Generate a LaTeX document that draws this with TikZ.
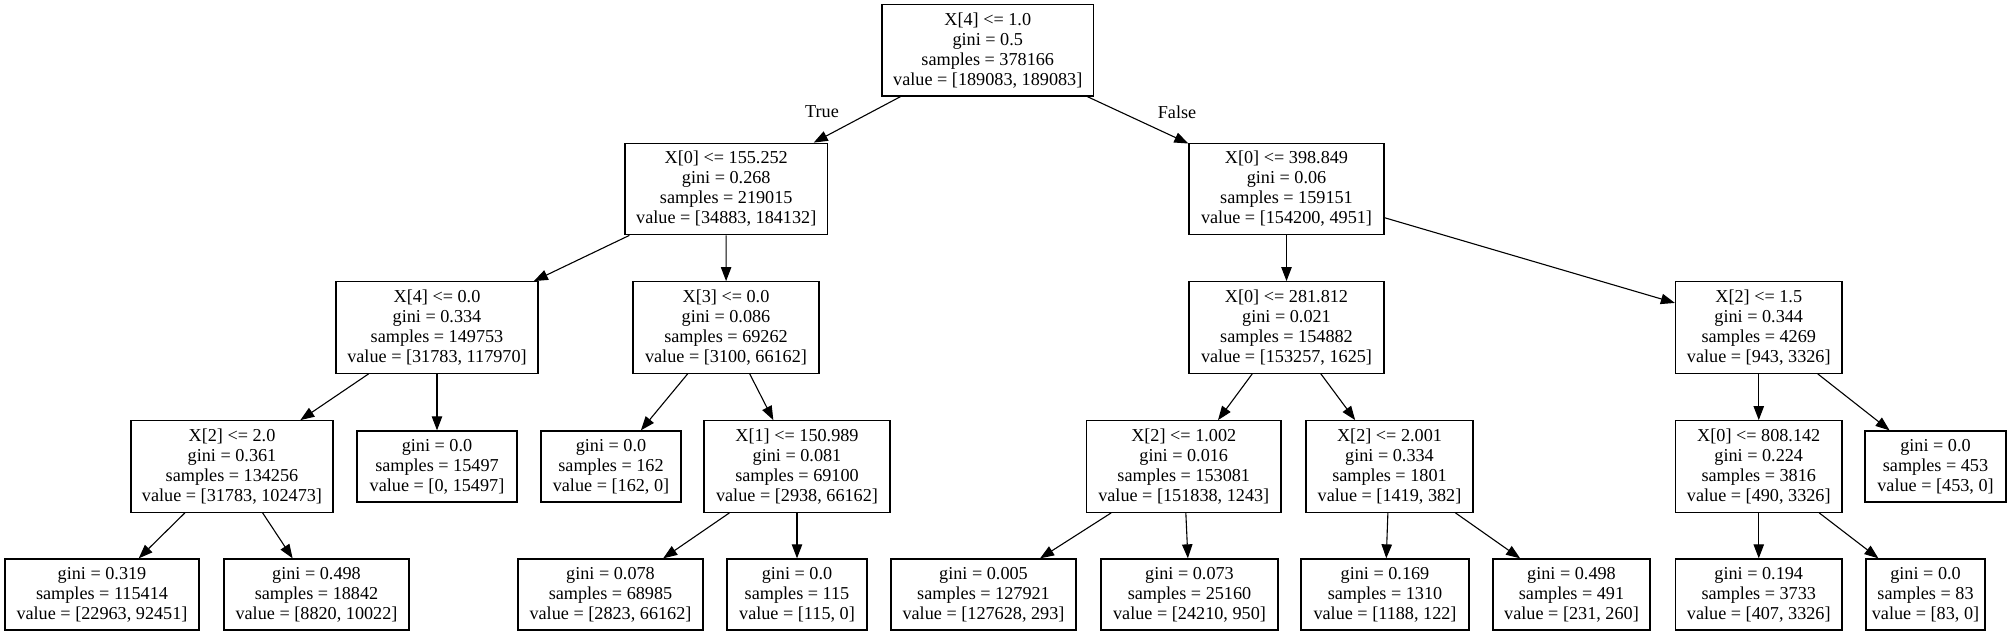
\documentclass[tikz,border=0pt]{standalone}
\usepackage{fontspec}
\setmainfont{Liberation Serif}
\usetikzlibrary{arrows.meta}
\begin{document}
\begin{tikzpicture}[x=0.5pt,y=-0.5pt,
 box/.style={draw=black,line width=0.65pt,inner sep=0pt,align=center,font=\fontsize{9.1}{10}\selectfont,minimum height=45.75pt},
 leaf/.style={box,minimum height=35.5pt},
 edge/.style={draw=black,line width=0.55pt,-{Triangle[length=7pt,width=5.2pt]}},
 lab/.style={font=\fontsize{9.1}{10}\selectfont,inner sep=0pt}]
\useasboundingbox (0,0) rectangle (2011,636);
% row 1
\node[box,minimum width=105.75pt] (n0) at (987.75,50.35) {X[4] <= 1.0\\gini = 0.5\\samples = 378166\\value = [189083, 189083]};
% row 2
\node[box,minimum width=101.25pt] (n1) at (726.25,189) {X[0] <= 155.252\\gini = 0.268\\samples = 219015\\value = [34883, 184132]};
\node[box,minimum width=97.5pt] (n2) at (1286.5,189) {X[0] <= 398.849\\gini = 0.06\\samples = 159151\\value = [154200, 4951]};
% row 3
\node[box,minimum width=101pt] (n3) at (437,327.5) {X[4] <= 0.0\\gini = 0.334\\samples = 149753\\value = [31783, 117970]};
\node[box,minimum width=93pt] (n4) at (726,327.5) {X[3] <= 0.0\\gini = 0.086\\samples = 69262\\value = [3100, 66162]};
\node[box,minimum width=97.5pt] (n5) at (1286.5,327.5) {X[0] <= 281.812\\gini = 0.021\\samples = 154882\\value = [153257, 1625]};
\node[box,minimum width=83.25pt] (n6) at (1758.75,327.5) {X[2] <= 1.5\\gini = 0.344\\samples = 4269\\value = [943, 3326]};
% row 4
\node[box,minimum width=101pt] (n7) at (232,466.5) {X[2] <= 2.0\\gini = 0.361\\samples = 134256\\value = [31783, 102473]};
\node[leaf,minimum width=80pt] (n8) at (437,466.5) {gini = 0.0\\samples = 15497\\value = [0, 15497]};
\node[leaf,minimum width=70pt] (n9) at (611,466.5) {gini = 0.0\\samples = 162\\value = [162, 0]};
\node[box,minimum width=93pt] (n10) at (797,466.5) {X[1] <= 150.989\\gini = 0.081\\samples = 69100\\value = [2938, 66162]};
\node[box,minimum width=97.25pt] (n11) at (1183.75,466.5) {X[2] <= 1.002\\gini = 0.016\\samples = 153081\\value = [151838, 1243]};
\node[box,minimum width=83.5pt] (n12) at (1389.5,466.5) {X[2] <= 2.001\\gini = 0.334\\samples = 1801\\value = [1419, 382]};
\node[box,minimum width=83.25pt] (n13) at (1758.75,466.5) {X[0] <= 808.142\\gini = 0.224\\samples = 3816\\value = [490, 3326]};
\node[leaf,minimum width=70.5pt] (n14) at (1935.5,466.5) {gini = 0.0\\samples = 453\\value = [453, 0]};
% row 5
\node[leaf,minimum width=97pt] (n15) at (102,594.5) {gini = 0.319\\samples = 115414\\value = [22963, 92451]};
\node[leaf,minimum width=92.5pt] (n16) at (316.5,594.5) {gini = 0.498\\samples = 18842\\value = [8820, 10022]};
\node[leaf,minimum width=92.5pt] (n17) at (610.5,594.5) {gini = 0.078\\samples = 68985\\value = [2823, 66162]};
\node[leaf,minimum width=70pt] (n18) at (797,594.5) {gini = 0.0\\samples = 115\\value = [115, 0]};
\node[leaf,minimum width=92.5pt] (n19) at (983.5,594.5) {gini = 0.005\\samples = 127921\\value = [127628, 293]};
\node[leaf,minimum width=88.5pt] (n20) at (1189.5,594.5) {gini = 0.073\\samples = 25160\\value = [24210, 950]};
\node[leaf,minimum width=84pt] (n21) at (1385,594.5) {gini = 0.169\\samples = 1310\\value = [1188, 122]};
\node[leaf,minimum width=78.5pt] (n22) at (1571.5,594.5) {gini = 0.498\\samples = 491\\value = [231, 260]};
\node[leaf,minimum width=83.25pt] (n23) at (1758.75,594.5) {gini = 0.194\\samples = 3733\\value = [407, 3326]};
\node[leaf,minimum width=59.5pt] (n24) at (1925.5,594.5) {gini = 0.0\\samples = 83\\value = [83, 0]};
% labels
\node[lab] (ltrue) at (822,111.7) {True};
\node[lab] (lfalse) at (1177,112.7) {False};
% edges
\draw[edge] (n0) -- (n1);
\draw[edge] (n0) -- (n2);
\draw[edge] (n1) -- (n3);
\draw[edge] (n1) -- (n4);
\draw[edge] (n2) -- (n5);
\draw[edge] (n2) -- (n6);
\draw[edge] (n3) -- (n7);
\draw[edge] (n3) -- (n8);
\draw[edge] (n4) -- (n9);
\draw[edge] (n4) -- (n10);
\draw[edge] (n5) -- (n11);
\draw[edge] (n5) -- (n12);
\draw[edge] (n6) -- (n13);
\draw[edge] (n6) -- (n14);
\draw[edge] (n7) -- (n15);
\draw[edge] (n7) -- (n16);
\draw[edge] (n10) -- (n17);
\draw[edge] (n10) -- (n18);
\draw[edge] (n11) -- (n19);
\draw[edge] (n11) -- (n20);
\draw[edge] (n12) -- (n21);
\draw[edge] (n12) -- (n22);
\draw[edge] (n13) -- (n23);
\draw[edge] (n13) -- (n24);
\end{tikzpicture}
\end{document}
